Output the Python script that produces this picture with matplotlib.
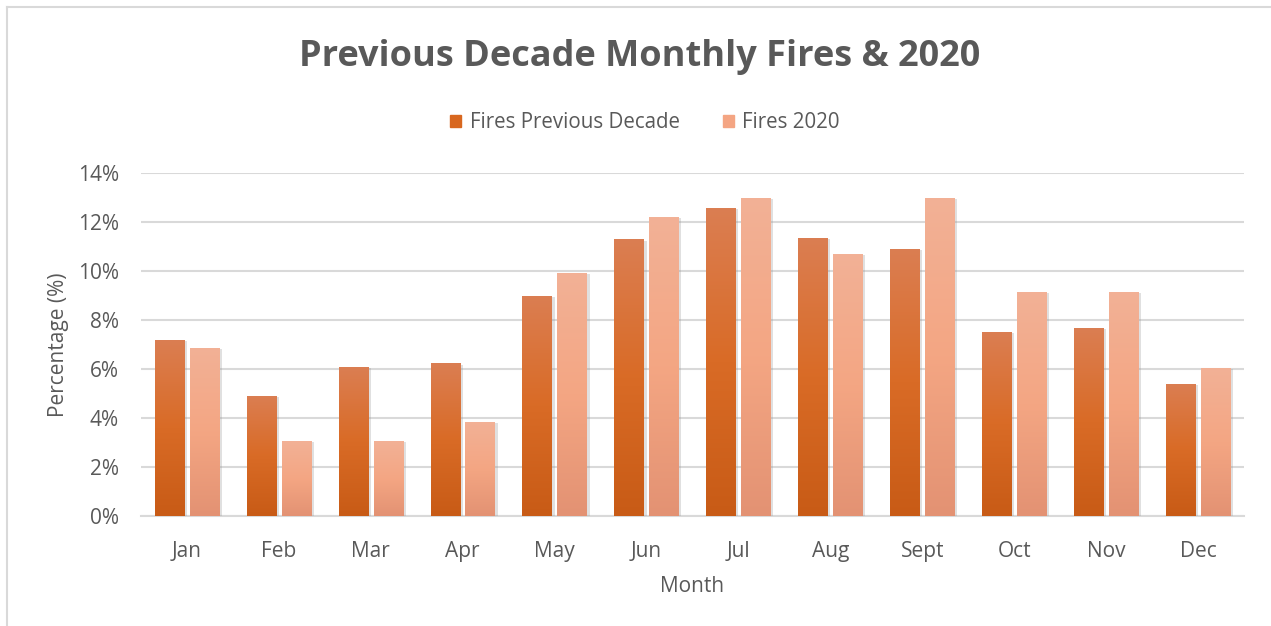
import numpy as np
import matplotlib.pyplot as plt
from matplotlib.lines import Line2D
from matplotlib.colors import LinearSegmentedColormap
import matplotlib.patheffects as pe

plt.rcParams['font.family'] = ['Open Sans', 'DejaVu Sans']

# Data (percent of yearly fires)
months = ["Jan", "Feb", "Mar", "Apr", "May", "Jun", "Jul", "Aug", "Sept", "Oct", "Nov", "Dec"]
prev_decade = [7.18, 4.90, 6.08, 6.24, 8.98, 11.30, 12.57, 11.35, 10.90, 7.51, 7.67, 5.39]
fires_2020 = [6.86, 3.06, 3.06, 3.84, 9.92, 12.20, 12.98, 10.69, 12.98, 9.14, 9.14, 6.04]

text_col = "#595959"
grid_col = "#D9D9D9"

fig = plt.figure(figsize=(12.71, 6.26), dpi=100)
ax = fig.add_axes([141 / 1271, 1 - 516 / 626, (1244 - 141) / 1271, (516 - 173) / 626])

x = np.arange(len(months))
w = 0.32
off = 0.19

cmap_prev = LinearSegmentedColormap.from_list("prev", ["#DB7E52", "#D96B26", "#C85B16"])
cmap_2020 = LinearSegmentedColormap.from_list("f20", ["#F2B196", "#F4A683", "#E39273"])

def gradient_bars(bars, cmap):
    grad = np.linspace(0, 1, 256).reshape(-1, 1)
    for b in bars:
        x0, y0 = b.get_x(), b.get_y()
        bw, bh = b.get_width(), b.get_height()
        im = ax.imshow(grad, cmap=cmap, aspect="auto", origin="upper",
                       extent=[x0, x0 + bw, y0, y0 + bh], zorder=3)
        im.set_clip_path(b)

shadow = [pe.SimplePatchShadow(offset=(2, -1), shadow_rgbFace="#9a9a9a", alpha=0.3), pe.Normal()]
bars1 = ax.bar(x - off, prev_decade, w, color="#D8671F", zorder=3,
               label="Fires Previous Decade", path_effects=shadow)
bars2 = ax.bar(x + off, fires_2020, w, color="#F4A583", zorder=3,
               label="Fires 2020", path_effects=shadow)
gradient_bars(bars1, cmap_prev)
gradient_bars(bars2, cmap_2020)

ax.set_xlim(-0.5, len(months) - 0.5)
ax.set_ylim(0, 14)
ax.set_yticks(np.arange(0, 15, 2))
ax.set_yticklabels([f"{v}%" for v in range(0, 15, 2)])
ax.set_xticks(x)
ax.set_xticklabels(months)

ax.grid(axis="y", color=grid_col, linewidth=1.5, zorder=0)
ax.set_axisbelow(True)
for s in ["top", "right", "left"]:
    ax.spines[s].set_visible(False)
ax.spines["bottom"].set_color(grid_col)
ax.spines["bottom"].set_linewidth(1.5)
ax.tick_params(axis="both", length=0, labelsize=15, colors=text_col)
ax.tick_params(axis="x", pad=18)
ax.tick_params(axis="y", pad=16)

ax.set_xlabel("Month", fontsize=15, color=text_col, labelpad=10)
ax.set_ylabel("Percentage (%)", fontsize=15, color=text_col, labelpad=6)

fig.text(640 / 1271, 1 - 57 / 626, "Previous Decade Monthly Fires & 2020",
         ha="center", va="center", fontsize=26, fontweight="bold", color=text_col)

handles = [plt.Rectangle((0, 0), 1, 1, color="#D8671F"),
           plt.Rectangle((0, 0), 1, 1, color="#F4A583")]
fig.legend(handles, ["Fires Previous Decade", "Fires 2020"], loc="center",
           bbox_to_anchor=(645 / 1271, 1 - 123 / 626), ncol=2, frameon=False,
           fontsize=14.8, handlelength=0.55, handleheight=0.55, handletextpad=0.4,
           columnspacing=2.1, labelcolor=text_col)

# chart area border (cropped at right and bottom)
fig.add_artist(Line2D([7 / 1271, 1], [1 - 7 / 626, 1 - 7 / 626], color=grid_col, lw=1.5))
fig.add_artist(Line2D([7 / 1271, 7 / 1271], [0, 1 - 7 / 626], color=grid_col, lw=1.5))

fig.savefig("out.png", dpi=100, facecolor="white")
